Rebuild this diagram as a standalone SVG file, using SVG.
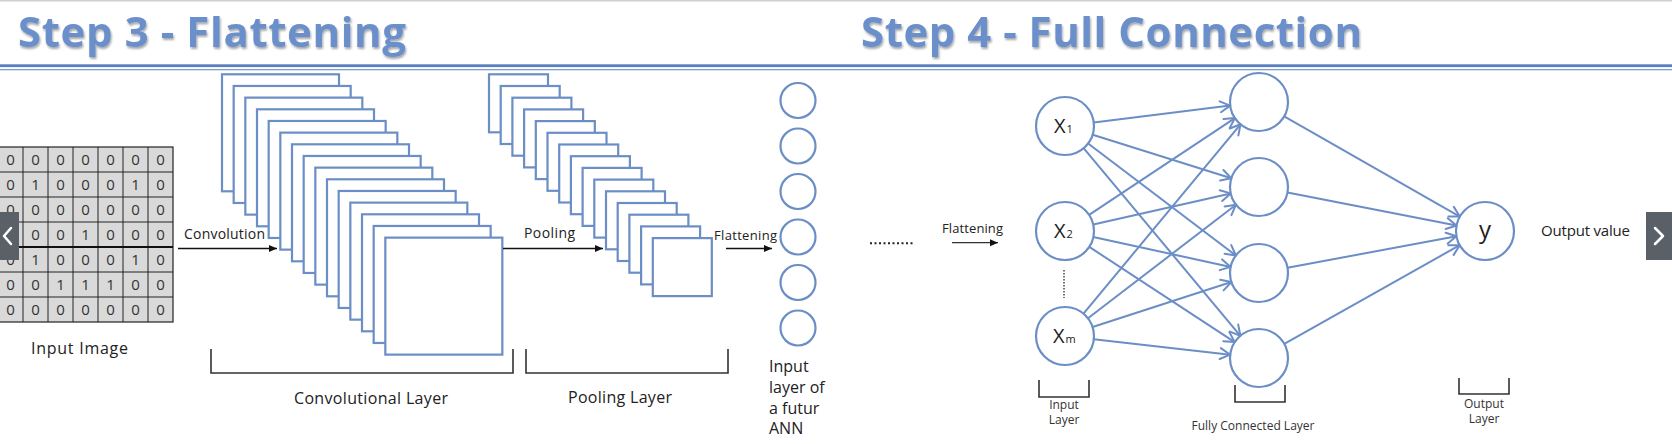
<svg xmlns="http://www.w3.org/2000/svg" xmlns:xlink="http://www.w3.org/1999/xlink" width="1672" height="444" viewBox="0 0 1672 444">
<style>
.ttl{font-family:"Open Sans","Liberation Sans",sans-serif;font-weight:700;font-size:42px;fill:#6a8fca}
.t{font-family:"Open Sans","Liberation Sans",sans-serif;fill:#222}
.dg{font-family:"Open Sans","Liberation Sans",sans-serif;font-size:15px;fill:#333;text-anchor:middle}
.sm{font-family:"Open Sans","Liberation Sans",sans-serif;font-size:12px;fill:#333;text-anchor:middle}
.fm{fill:#fff;stroke:#6b8ec6;stroke-width:2.2}
.nd{fill:#fff;stroke:#6b8ec6;stroke-width:2.2}
.ed{stroke:#6b8ec6;stroke-width:2;fill:none;marker-end:url(#ab)}
.ar{stroke:#111;stroke-width:1.6;fill:none;marker-end:url(#ah)}
.br{stroke:#333;stroke-width:1.6;fill:none}
.nav{fill:#5a6068}
.chev{fill:none;stroke:#fff;stroke-width:2.5;stroke-linecap:round;stroke-linejoin:round}
</style>
<defs>
<filter id="sh" x="-5%" y="-20%" width="110%" height="150%"><feDropShadow dx="1" dy="2" stdDeviation="1.3" flood-color="#000" flood-opacity="0.35"/></filter>
<marker id="ah" markerWidth="9" markerHeight="8" refX="8" refY="4" orient="auto" markerUnits="userSpaceOnUse"><path d="M0,0.5 L8,4 L0,7.5 z" fill="#111"/></marker>
<marker id="ab" markerWidth="14" markerHeight="14" refX="12" refY="7" orient="auto" markerUnits="userSpaceOnUse"><path d="M2,1.5 L12,7 L2,12.5" fill="none" stroke="#6b8ec6" stroke-width="2" stroke-linecap="round" stroke-linejoin="round"/></marker>
<rect id="cr" width="117" height="117" class="fm"/>
<rect id="pr" width="59" height="58" class="fm"/>
</defs>
<rect width="1672" height="444" fill="#fff"/>

<g id="header">
<line x1="0" y1="0.8" x2="1672" y2="0.8" stroke="#cfcfcf" stroke-width="1.6"/>
<text class="ttl" x="18" y="47" textLength="388" filter="url(#sh)">Step 3 - Flattening</text>
<text class="ttl" x="861" y="47" textLength="501" filter="url(#sh)">Step 4 - Full Connection</text>
<rect x="0" y="64.3" width="1672" height="2.8" fill="#5a7fc0"/>
<rect x="0" y="69" width="1672" height="1.3" fill="#7d9cd2"/>
</g>

<g id="input-image">
<rect x="-2" y="147" width="175" height="175" fill="#d9d9d9" stroke="#222" stroke-width="1.2"/>
<path d="M23,147V322M48,147V322M73,147V322M98,147V322M123,147V322M148,147V322M-2,172H173M-2,197H173M-2,222H173M-2,272H173M-2,297H173" stroke="#222" stroke-width="1"/>
<line x1="-2" y1="247" x2="173" y2="247" stroke="#111" stroke-width="2"/>
<text class="dg" x="10.5 35.5 60.5 85.5 110.5 135.5 160.5" y="165">0000000</text>
<text class="dg" x="10.5 35.5 60.5 85.5 110.5 135.5 160.5" y="190">0100010</text>
<text class="dg" x="10.5 35.5 60.5 85.5 110.5 135.5 160.5" y="215">0000000</text>
<text class="dg" x="10.5 35.5 60.5 85.5 110.5 135.5 160.5" y="240">0001000</text>
<text class="dg" x="10.5 35.5 60.5 85.5 110.5 135.5 160.5" y="265">0100010</text>
<text class="dg" x="10.5 35.5 60.5 85.5 110.5 135.5 160.5" y="290">0011100</text>
<text class="dg" x="10.5 35.5 60.5 85.5 110.5 135.5 160.5" y="315">0000000</text>
<text class="t" x="31" y="354" font-size="16" textLength="97">Input Image</text>
</g>

<g id="convolutional-layer">
<use href="#cr" x="222" y="74.3"/>
<use href="#cr" x="233.67" y="85.97"/>
<use href="#cr" x="245.33" y="97.63"/>
<use href="#cr" x="257" y="109.3"/>
<use href="#cr" x="268.67" y="120.97"/>
<use href="#cr" x="280.33" y="132.63"/>
<use href="#cr" x="292" y="144.3"/>
<use href="#cr" x="303.67" y="155.97"/>
<use href="#cr" x="315.33" y="167.63"/>
<use href="#cr" x="327" y="179.3"/>
<use href="#cr" x="338.67" y="190.97"/>
<use href="#cr" x="350.33" y="202.63"/>
<use href="#cr" x="362" y="214.3"/>
<use href="#cr" x="373.67" y="225.97"/>
<use href="#cr" x="385.33" y="237.63"/>
<path class="br" d="M211,349V373H513V349"/>
<text class="t" x="294" y="404" font-size="16" textLength="154">Convolutional Layer</text>
</g>

<g id="pooling-layer">
<use href="#pr" x="489" y="74.3"/>
<use href="#pr" x="500.7" y="86"/>
<use href="#pr" x="512.4" y="97.7"/>
<use href="#pr" x="524.1" y="109.4"/>
<use href="#pr" x="535.8" y="121.1"/>
<use href="#pr" x="547.5" y="132.8"/>
<use href="#pr" x="559.2" y="144.5"/>
<use href="#pr" x="570.9" y="156.2"/>
<use href="#pr" x="582.6" y="167.9"/>
<use href="#pr" x="594.3" y="179.6"/>
<use href="#pr" x="606" y="191.3"/>
<use href="#pr" x="617.7" y="203"/>
<use href="#pr" x="629.4" y="214.7"/>
<use href="#pr" x="641.1" y="226.4"/>
<use href="#pr" x="652.8" y="238.1"/>
<path class="br" d="M526,349V373H728V349"/>
<text class="t" x="568" y="403" font-size="16" textLength="104">Pooling Layer</text>
</g>

<g id="flattened-input">
<circle class="nd" cx="798" cy="100.5" r="17.5"/>
<circle class="nd" cx="798" cy="146" r="17.5"/>
<circle class="nd" cx="798" cy="191.5" r="17.5"/>
<circle class="nd" cx="798" cy="237" r="17.5"/>
<circle class="nd" cx="798" cy="282.5" r="17.5"/>
<circle class="nd" cx="798" cy="328" r="17.5"/>
<text class="t" font-size="16"><tspan x="769" y="372">Input</tspan><tspan x="769" y="393">layer of</tspan><tspan x="769" y="413.5">a futur</tspan><tspan x="769" y="434">ANN</tspan></text>
</g>

<g id="input-layer">
<circle class="nd" cx="1065" cy="126" r="29"/>
<circle class="nd" cx="1065" cy="231" r="29"/>
<circle class="nd" cx="1065" cy="336" r="29"/>
<text class="t" x="1054" y="133" font-size="20">X<tspan font-size="11" dx="1">1</tspan></text>
<text class="t" x="1054" y="238" font-size="20">X<tspan font-size="11" dx="1">2</tspan></text>
<text class="t" x="1053" y="343" font-size="20">X<tspan font-size="11" dx="1">m</tspan></text>
<line x1="1064" y1="270" x2="1064" y2="298" stroke="#444" stroke-width="1.5" stroke-dasharray="1.5 1.5"/>
<path class="br" d="M1039,380V397H1089V380"/>
<text class="sm"><tspan x="1064" y="409">Input</tspan><tspan x="1064" y="424">Layer</tspan></text>
</g>

<g id="fully-connected-layer">
<circle class="nd" cx="1259" cy="102" r="29"/>
<circle class="nd" cx="1259" cy="187" r="29"/>
<circle class="nd" cx="1259" cy="273" r="29"/>
<circle class="nd" cx="1259" cy="358" r="29"/>
<path class="br" d="M1235,385V402H1285V385"/>
<text class="sm" x="1253" y="430" textLength="123">Fully Connected Layer</text>
</g>

<g id="output-layer">
<circle class="nd" cx="1485" cy="231" r="29"/>
<text class="t" x="1485" y="238" font-size="24" text-anchor="middle">y</text>
<text class="t" x="1541" y="236" font-size="15" textLength="89">Output value</text>
<path class="br" d="M1459,378V394H1509V378"/>
<text class="sm"><tspan x="1484" y="408">Output</tspan><tspan x="1484" y="423">Layer</tspan></text>
</g>

<g id="connectors">
<line class="ar" x1="178" y1="248.5" x2="277" y2="248.5"/>
<text class="t" x="184" y="239" font-size="14" textLength="81">Convolution</text>
<line class="ar" x1="503" y1="248.5" x2="603" y2="248.5"/>
<text class="t" x="524" y="238" font-size="14" textLength="51">Pooling</text>
<line class="ar" x1="726" y1="248.5" x2="772" y2="248.5"/>
<text class="t" x="714" y="240" font-size="13" textLength="63">Flattening</text>
<line x1="870" y1="243.3" x2="915" y2="243.3" stroke="#222" stroke-width="2" stroke-dasharray="2 2.5"/>
<text class="t" x="942" y="233" font-size="13" fill="#333" textLength="61">Flattening</text>
<line x1="952" y1="242.7" x2="998" y2="242.7" stroke="#333" stroke-width="1.2" marker-end="url(#ah)"/>
<line class="ed" x1="1093.8" y1="122.4" x2="1230.2" y2="105.6"/>
<line class="ed" x1="1092.7" y1="134.7" x2="1231.3" y2="178.3"/>
<line class="ed" x1="1088.1" y1="143.5" x2="1235.9" y2="255.5"/>
<line class="ed" x1="1083.6" y1="148.2" x2="1240.4" y2="335.8"/>
<line class="ed" x1="1089.1" y1="214.9" x2="1234.9" y2="118.1"/>
<line class="ed" x1="1093.3" y1="224.6" x2="1230.7" y2="193.4"/>
<line class="ed" x1="1093.3" y1="237.1" x2="1230.7" y2="266.9"/>
<line class="ed" x1="1089.3" y1="246.9" x2="1234.7" y2="342.1"/>
<line class="ed" x1="1083.5" y1="313.7" x2="1240.5" y2="124.3"/>
<line class="ed" x1="1088" y1="318.3" x2="1236" y2="204.7"/>
<line class="ed" x1="1092.6" y1="327" x2="1231.4" y2="282"/>
<line class="ed" x1="1093.8" y1="339.3" x2="1230.2" y2="354.7"/>
<line class="ed" x1="1284.2" y1="116.4" x2="1459.8" y2="216.6"/>
<line class="ed" x1="1287.5" y1="192.5" x2="1456.5" y2="225.5"/>
<line class="ed" x1="1287.5" y1="267.7" x2="1456.5" y2="236.3"/>
<line class="ed" x1="1284.3" y1="343.8" x2="1459.7" y2="245.2"/>
</g>

<g id="nav-buttons">
<rect class="nav" x="0" y="212" width="19" height="48"/>
<polyline class="chev" points="11,228 4,236 11,244"/>
<rect class="nav" x="1646" y="212" width="26" height="48"/>
<polyline class="chev" points="1655,228 1663,236 1655,244"/>
</g>
</svg>
